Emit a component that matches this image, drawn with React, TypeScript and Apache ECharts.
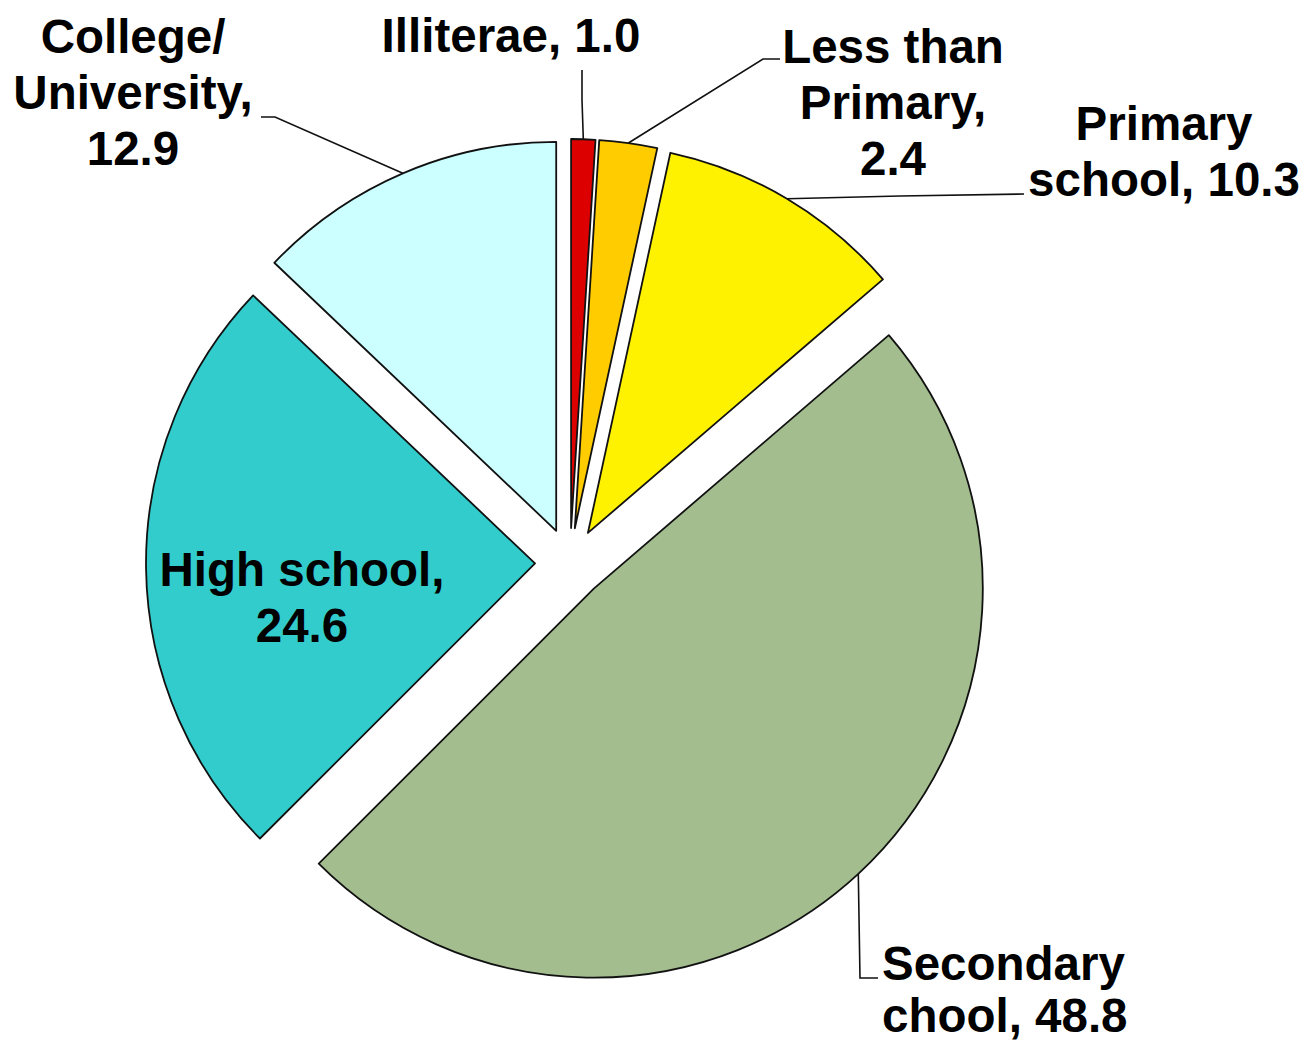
import React, { useEffect, useRef } from "react";
import * as echarts from "echarts";

const categories = [
  "Illiterae",
  "Less than Primary",
  "Primary school",
  "Secondary chool",
  "High school",
  "College/University",
];
const values = [1.0, 2.4, 10.3, 48.8, 24.6, 12.9];
const labelTexts = [
  "Illiterae,",
  "Less than\nPrimary,\n",
  "Primary\nschool,",
  "Secondary\nchool,",
  "High school,\n",
  "College/\nUniversity,\n",
];
const colors = ["#dd0000", "#ffcc00", "#fff200", "#a3bd8f", "#33cccc", "#ccffff"];

const CX = 570;
const CY = 563;
const R = 389;
const OFFSET = 35;

// label placement (centre of text block) and leader elbows
const labelPos: { x: number; y: number; align: string; lh: number; line: number[][] | null }[] = [
  { x: 511, y: 35, align: "center", lh: 56, line: [[582, 100], [582, 70]] },
  { x: 893, y: 102, align: "center", lh: 56, line: [[763, 59], [780, 59]] },
  { x: 1164, y: 151, align: "center", lh: 56, line: [[900, 196], [1024, 194]] },
  { x: 882, y: 989, align: "left", lh: 52, line: [[860, 978], [878, 978]] },
  { x: 302, y: 597, align: "center", lh: 56, line: null },
  { x: 133, y: 92, align: "center", lh: 56, line: [[275, 117], [261, 117]] },
];

export default function App() {
  const ref = useRef<HTMLDivElement>(null);
  useEffect(() => {
    const chart = echarts.init(ref.current!, null, { renderer: "svg" });
    const total = values.reduce((a, b) => a + b, 0);
    const mids: number[] = [];
    let acc = 0;
    values.forEach((v) => {
      mids.push(((acc + v / 2) / total) * Math.PI * 2);
      acc += v;
    });
    const sliceData = values.map((v, i) => ({
      name: categories[i],
      value: v,
      selected: true,
      itemStyle: { color: colors[i], borderColor: "#111", borderWidth: 1.8 },
      select: { itemStyle: { color: colors[i], borderColor: "#111", borderWidth: 1.8 } },
    }));
    const labelData = values.map((v, i) => ({
      name: categories[i],
      value: v,
      label: {
        formatter: labelTexts[i] + (labelTexts[i].endsWith("\n") ? "" : " ") + v.toFixed(1),
        lineHeight: labelPos[i].lh,
      },
      labelLine: { show: labelPos[i].line !== null },
    }));
    chart.setOption({
      animation: false,
      series: [
        {
          type: "pie",
          center: [CX, CY],
          radius: R,
          startAngle: 90,
          clockwise: true,
          selectedMode: "multiple",
          selectedOffset: OFFSET,
          emphasis: { disabled: true },
          label: { show: false },
          labelLine: { show: false },
          data: sliceData,
        },
        {
          type: "pie",
          center: [CX, CY],
          radius: R,
          startAngle: 90,
          clockwise: true,
          silent: true,
          selectedMode: false,
          avoidLabelOverlap: false,
          emphasis: { disabled: true },
          itemStyle: { color: "rgba(0,0,0,0)", borderWidth: 0 },
          label: {
            show: true,
            position: "outside",
            color: "#000",
            fontFamily: "'Liberation Sans', Arial, sans-serif",
            fontWeight: "bold",
            fontSize: 47.5,
            lineHeight: 56,
          },
          labelLine: {
            show: true,
            lineStyle: { color: "#111", width: 1.6 },
          },
          labelLayout: (params: any) => {
            const i = params.dataIndex;
            const p = labelPos[i];
            const a = mids[i];
            const ax = CX + (R + OFFSET) * Math.sin(a);
            const ay = CY - (R + OFFSET) * Math.cos(a);
            const out: any = {
              x: p.x,
              y: p.y,
              align: p.align,
              verticalAlign: "middle",
            };
            if (p.line) {
              out.labelLinePoints = [[ax, ay], p.line[0], p.line[1]];
            }
            return out;
          },
          data: labelData,
        },
      ],
    });
    return () => chart.dispose();
  }, []);
  return (
    <div
      ref={ref}
      style={{ position: "absolute", left: 0, top: 0, width: 1306, height: 1041, background: "#fff" }}
    />
  );
}
